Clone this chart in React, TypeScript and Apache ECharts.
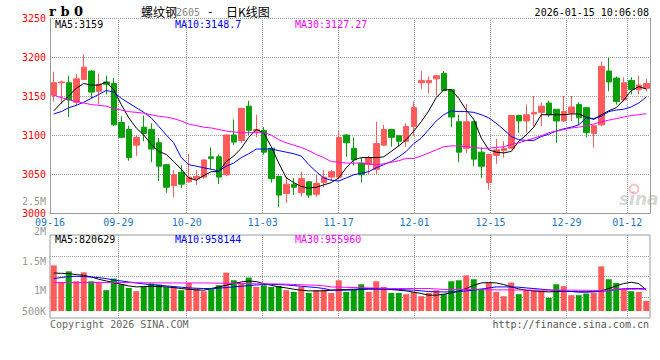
import React, { useEffect, useRef } from 'react';
import * as echarts from 'echarts';

// ---------- data ----------
const dates = [
  '09-16','09-17','09-18','09-19','09-22','09-23','09-24','09-25','09-26','09-29',
  '09-30','10-09','10-10','10-13','10-14','10-15','10-16','10-17','10-20','10-21',
  '10-22','10-23','10-24','10-27','10-28','10-29','10-30','10-31','11-03','11-04',
  '11-05','11-06','11-07','11-10','11-11','11-12','11-13','11-14','11-17','11-18',
  '11-19','11-20','11-21','11-24','11-25','11-26','11-27','11-28','12-01','12-02',
  '12-03','12-04','12-05','12-08','12-09','12-10','12-11','12-12','12-15','12-16',
  '12-17','12-18','12-19','12-22','12-23','12-24','12-25','12-26','12-29','12-30',
  '12-31','01-05','01-06','01-07','01-08','01-09','01-12','01-13','01-14','01-15'
];

const opens = [
  3151,3167,3167,3142,3171,3182,3156,3168,3166,3116,
  3107,3087,3110,3107,3090,3062,3035,3052,3040,3044,
  3046,3072,3072,3049,3100,3093,3137,3105,3106,3083,
  3047,3025,3037,3026,3040,3024,3039,3046,3046,3100,
  3083,3064,3062,3056,3087,3107,3099,3092,3111,3167,
  3167,3172,3179,3158,3117,3083,3117,3078,3039,3074,
  3080,3083,3125,3118,3127,3129,3141,3133,3118,3128,
  3139,3135,3102,3113,3182,3173,3145,3170,3158,3160
];
const closes = [
  3167,3168,3145,3172,3187,3155,3165,3165,3113,3097,
  3071,3097,3102,3082,3060,3033,3049,3037,3046,3047,
  3068,3070,3046,3100,3091,3134,3106,3107,3078,3044,
  3023,3037,3033,3044,3023,3038,3046,3053,3097,3090,
  3068,3049,3071,3089,3107,3097,3092,3111,3135,3170,
  3170,3176,3157,3123,3078,3117,3069,3060,3075,3081,
  3083,3125,3118,3126,3129,3137,3126,3118,3130,3136,
  3122,3103,3112,3188,3168,3143,3167,3158,3164,3166
];
const lows = [
  3143,3140,3123,3138,3171,3147,3139,3152,3112,3096,
  3067,3073,3092,3065,3041,3026,3020,3032,3039,3036,
  3044,3056,3037,3047,3087,3090,3100,3097,3075,3039,
  3008,3013,3023,3021,3019,3021,3033,3041,3043,3072,
  3061,3039,3050,3050,3086,3085,3085,3085,3099,3159,
  3153,3151,3156,3110,3065,3077,3060,3045,3030,3063,
  3071,3082,3103,3103,3111,3111,3123,3090,3117,3118,
  3113,3097,3084,3111,3156,3139,3143,3152,3152,3156
];
const highs = [
  3181,3170,3176,3178,3203,3183,3179,3176,3173,3124,
  3112,3100,3125,3115,3096,3063,3055,3061,3076,3055,
  3069,3084,3075,3101,3120,3135,3144,3126,3110,3084,
  3048,3045,3045,3053,3041,3049,3055,3055,3105,3101,
  3097,3071,3073,3117,3113,3108,3100,3115,3143,3182,
  3175,3177,3182,3159,3126,3140,3118,3084,3076,3095,
  3092,3125,3126,3139,3150,3142,3144,3133,3150,3150,
  3142,3135,3112,3194,3199,3175,3174,3174,3176,3172
];

const ma5 = [
  3131,3141,3150,3160,3166,3164,3164,3168,3158,3139,
  3122,3109,3100,3088,3079,3075,3066,3056,3045,3042,
  3048,3053,3053,3066,3073,3083,3097,3107,3103,3085,
  3064,3045,3039,3034,3032,3033,3036,3039,3045,3058,
  3068,3071,3071,3071,3072,3079,3086,3094,3105,3117,
  3131,3148,3158,3158,3147,3132,3120,3096,3081,3078,
  3077,3079,3092,3100,3110,3126,3126,3126,3126,3127,
  3127,3123,3120,3126,3131,3135,3145,3157,3162,3159
];
const ma10 = [
  3127,3130,3135,3138,3142,3147,3152,3157,3155,3147,
  3141,3135,3129,3122,3111,3100,3090,3071,3062,3060,
  3058,3056,3054,3060,3064,3071,3076,3082,3082,3082,
  3080,3078,3076,3073,3062,3053,3045,3042,3041,3045,
  3049,3051,3053,3058,3062,3066,3072,3079,3089,3096,
  3107,3118,3126,3131,3130,3130,3129,3126,3122,3115,
  3107,3098,3094,3093,3093,3098,3101,3105,3108,3110,
  3113,3122,3121,3124,3130,3132,3133,3136,3141,3148.7
];
const ma30 = [
  3151,3148,3145,3143,3141,3139,3138,3137,3134,3132,
  3130,3129,3128,3126,3124,3123,3121,3118,3114,3112,
  3110,3109,3107,3105,3104,3103,3103,3103,3103,3100,
  3094,3090,3087,3084,3080,3075,3071,3066,3065,3064,
  3064,3064,3063,3062,3063,3065,3067,3070,3070,3073,
  3077,3081,3085,3086,3086,3085,3084,3083,3083,3084,
  3085,3088,3090,3093,3096,3099,3103,3105,3107,3109,
  3110,3112,3114,3117,3119,3121,3123,3125,3126,3127.27
];

const volumes = [
  1430000,1150000,1329000,1162000,1313000,1162000,1150000,1012000,1207000,1112000,
  1050000,995000,1067000,1124000,1107000,1062000,1067000,1012000,1134000,1040000,
  995000,1040000,1095000,1308000,1179000,1124000,1224000,1067000,1095000,1067000,
  1084000,1012000,983000,1067000,966000,1012000,1023000,966000,1179000,983000,
  1028000,1112000,983000,1162000,1067000,966000,966000,945000,983000,911000,
  966000,1012000,945000,1162000,1179000,1262000,1196000,1040000,1134000,983000,
  911000,1140000,945000,1012000,1012000,1000000,883000,1112000,1079000,928000,
  928000,956000,966000,1413000,1196000,1134000,1040000,995000,983000,833000
];
const vma5 = [
  1301000,1296000,1291000,1274000,1262000,1234000,1196000,1167000,1140000,1112000,
  1084000,1067000,1073000,1078000,1073000,1067000,1057000,1040000,1028000,1017000,
  1012000,1040000,1067000,1095000,1124000,1150000,1167000,1157000,1124000,1095000,
  1067000,1050000,1028000,1012000,1000000,1000000,1000000,1012000,1017000,1023000,
  1028000,1034000,1040000,1040000,1034000,1023000,1012000,1000000,978000,956000,
  928000,928000,945000,966000,995000,1040000,1095000,1134000,1140000,1134000,
  1107000,1067000,1034000,1012000,1000000,990000,983000,990000,995000,990000,
  983000,983000,990000,1000000,1040000,1084000,1124000,1145000,1124000,1012000
];
const vma10 = [
  1207000,1224000,1241000,1246000,1241000,1234000,1224000,1207000,1184000,1167000,
  1150000,1134000,1117000,1107000,1095000,1084000,1073000,1062000,1050000,1045000,
  1040000,1040000,1045000,1057000,1067000,1078000,1090000,1100000,1107000,1107000,
  1107000,1100000,1090000,1078000,1067000,1057000,1040000,1012000,1012000,1012000,
  1017000,1023000,1028000,1028000,1028000,1028000,1023000,1017000,1012000,1000000,
  990000,983000,983000,983000,990000,1000000,1012000,1028000,1050000,1067000,
  1067000,1067000,1062000,1050000,1040000,1028000,1017000,1006000,995000,990000,
  983000,983000,983000,995000,1006000,1023000,1034000,1040000,1040000,1034000
];
const vma30 = [
  1140000,1140000,1140000,1140000,1140000,1140000,1140000,1140000,1140000,1140000,
  1140000,1138000,1137000,1136000,1135000,1134000,1134000,1134000,1134000,1134000,
  1134000,1132000,1130000,1128000,1126000,1124000,1122000,1120000,1119000,1118000,
  1117000,1113000,1108000,1103000,1099000,1095000,1085000,1067000,1064000,1060000,
  1057000,1054000,1050000,1047000,1044000,1040000,1040000,1040000,1040000,1040000,
  1040000,1034000,1023000,1023000,1023000,1023000,1022000,1021000,1019000,1018000,
  1017000,1016000,1015000,1014000,1013000,1012000,1012000,1012000,1012000,1012000,
  1012000,1010000,1008000,1000000,1010000,1028000,1028000,1028000,1028000,1028000
];

const axisDates = ['09-16','09-29','10-20','11-03','11-17','12-01','12-15','12-29','01-12'];
const priceMin = 3000;
const priceMax = 3250;
const priceStep = 50;
const volTickMin = 500000;
const volTickMax = 2500000;
const volTickStep = 500000;
const volMa5Now = 820629;
const volMa10Now = 958144;
const volMa30Now = 955960;
const symbolCode = 'r b 0';
const titleName = '螺纹钢';
const titleCode = '2605';
const titleKind = '日K线图';
const timestamp = '2026-01-15 10:06:08';
const copyrightText = 'Copyright 2026 SINA.COM';
const urlText = 'http://finance.sina.com.cn';

// ---------- styles ----------
const RED = '#ff5b5b';
const GREEN = '#08a008';
const GRID_GRAY = '#9c9c9c';
const BORDER_GRAY = '#9a9a9a';
const MONO = 'DejaVu Sans Mono';
const CJK = 'Noto Sans CJK SC';

export default function App() {
  const ref = useRef<HTMLDivElement>(null);

  useEffect(() => {
    if (!ref.current) return;
    const chart = echarts.init(ref.current, null, { renderer: 'svg' });

    const volTop = 201.8;
    const volLabelBottomY = 320.6;
    const volBarBaseY = 311;
    const perPx = (volTickMax - volTickMin) / (volLabelBottomY - volTop);
    const volBarMin = volTickMax - (volBarBaseY - volTop) * perPx;

    const showDate = (_i: number, v: string) => axisDates.includes(v);
    const showGrid = (i: number, v: string) => i > 0 && axisDates.includes(v);
    const dottedLine = { color: GRID_GRAY, type: 'dotted' as const, width: 1 };

    const maLine = (data: number[], color: string, x: number, y: number) => ({
      type: 'line',
      data,
      xAxisIndex: x,
      yAxisIndex: y,
      symbol: 'none',
      showSymbol: false,
      lineStyle: { width: 1, color },
      itemStyle: { color },
      z: 3,
    });

    const txt = (text: string, x: number, y: number, font: string, fill: string, align = 'left') => ({
      type: 'text',
      x,
      y,
      silent: true,
      z: 20,
      style: { text, font, fill, align, verticalAlign: 'middle', textAlign: align, textVerticalAlign: 'middle' },
    });

    const option: any = {
      animation: false,
      backgroundColor: '#ffffff',
      grid: [
        { left: 50, right: 10, top: 18, bottom: 147 },
        { left: 50, right: 10, top: 235, bottom: 42, show: true, borderColor: BORDER_GRAY, borderWidth: 1, backgroundColor: 'transparent' },
        { left: 50, right: 10, top: volTop, bottom: 360 - volBarBaseY },
        { left: 50, right: 10, top: volTop, bottom: 360 - volLabelBottomY },
      ],
      xAxis: [
        { type: 'category', gridIndex: 0, data: dates, boundaryGap: true, show: false },
        {
          type: 'category', gridIndex: 0, data: dates, boundaryGap: false, position: 'bottom',
          axisLine: { show: true, lineStyle: { color: BORDER_GRAY, width: 1 } },
          axisTick: { show: false },
          axisLabel: { interval: showDate, color: '#1e78c8', fontFamily: MONO, fontSize: 10, lineHeight: 8, margin: 5 },
          splitLine: { show: true, interval: showGrid, lineStyle: dottedLine },
        },
        {
          type: 'category', gridIndex: 1, data: dates, boundaryGap: false,
          axisLine: { show: false }, axisTick: { show: false }, axisLabel: { show: false },
          splitLine: { show: true, interval: showGrid, lineStyle: dottedLine },
        },
        { type: 'category', gridIndex: 2, data: dates, boundaryGap: true, show: false },
        { type: 'category', gridIndex: 3, data: dates, boundaryGap: true, show: false },
      ],
      yAxis: [
        {
          type: 'value', gridIndex: 0, min: priceMin, max: priceMax, interval: priceStep,
          axisLine: { show: true, lineStyle: { color: BORDER_GRAY, width: 1 } },
          axisTick: { show: false },
          axisLabel: { color: '#ff0000', fontFamily: MONO, fontSize: 10, lineHeight: 9, margin: 4, formatter: (v: number) => String(v) },
          splitLine: { show: true, showMinLine: false, showMaxLine: true, lineStyle: dottedLine },
        },
        {
          type: 'value', gridIndex: 0, position: 'right', min: priceMin, max: priceMax, interval: priceStep,
          axisLine: { show: true, lineStyle: { color: BORDER_GRAY, width: 1 } },
          axisTick: { show: false }, axisLabel: { show: false }, splitLine: { show: false },
        },
        {
          type: 'value', gridIndex: 1, min: 0, max: 4, interval: 1,
          axisLine: { show: false }, axisTick: { show: false }, axisLabel: { show: false },
          splitLine: { show: true, showMinLine: false, showMaxLine: false, lineStyle: dottedLine },
        },
        { type: 'value', gridIndex: 2, min: volBarMin, max: volTickMax, show: false, splitLine: { show: false } },
        {
          type: 'value', gridIndex: 3, min: volTickMin, max: volTickMax, interval: volTickStep,
          axisLine: { show: false }, axisTick: { show: false }, splitLine: { show: false },
          axisLabel: {
            color: '#999999', fontFamily: MONO, fontSize: 10, lineHeight: 9, margin: 4,
            formatter: (v: number) => {
              const s = v >= 1000000 ? `${v / 1000000}M` : `${v / 1000}K`;
              return v === volTickMin ? `{low|${s}}` : s;
            },
            rich: { low: { color: '#999999', fontFamily: MONO, fontSize: 10, lineHeight: 9, padding: [0, 0, 19, 0] } },
          },
        },
      ],
      series: [
        {
          type: 'candlestick',
          xAxisIndex: 0,
          yAxisIndex: 0,
          barWidth: 6,
          data: dates.map((_, i) => [opens[i], closes[i], lows[i], highs[i]]),
          itemStyle: { color: RED, color0: GREEN, borderColor: RED, borderColor0: GREEN, borderWidth: 1 },
          z: 2,
        },
        maLine(ma5, '#000000', 0, 0),
        maLine(ma10, '#0000ff', 0, 0),
        maLine(ma30, '#ff00ff', 0, 0),
        {
          type: 'bar',
          xAxisIndex: 3,
          yAxisIndex: 3,
          barWidth: 6,
          data: volumes.map((v, i) => ({ value: v, itemStyle: { color: closes[i] >= opens[i] ? RED : GREEN } })),
          z: 2,
        },
        maLine(vma5, '#000000', 3, 3),
        maLine(vma10, '#0000ff', 3, 3),
        maLine(vma30, '#ff00ff', 3, 3),
      ],
      graphic: [
        txt(symbolCode, 49, 11, `bold 13px "DejaVu Serif"`, '#000000'),
        txt(titleName, 141, 11, `12px "${CJK}"`, '#000000'),
        txt(titleCode, 176, 12, `10px "${MONO}"`, '#888888'),
        txt('-', 207, 11, `11px "${MONO}"`, '#000000'),
        txt(titleKind, 226, 11, `12px "${CJK}"`, '#000000'),
        txt(timestamp, 649, 12, `10px "${MONO}"`, '#000000', 'right'),
        txt(`MA5:${ma5[ma5.length - 1]}`, 55, 24, `10px "${MONO}"`, '#000000'),
        txt(`MA10:${ma10[ma10.length - 1]}`, 175, 24, `10px "${MONO}"`, '#0000ff'),
        txt(`MA30:${ma30[ma30.length - 1]}`, 295, 24, `10px "${MONO}"`, '#ff00ff'),
        txt(`MA5:${volMa5Now}`, 55, 239, `10px "${MONO}"`, '#000000'),
        txt(`MA10:${volMa10Now}`, 175, 239, `10px "${MONO}"`, '#0000ff'),
        txt(`MA30:${volMa30Now}`, 295, 239, `10px "${MONO}"`, '#ff00ff'),
        txt(copyrightText, 50, 324, `10px "${MONO}"`, '#666666'),
        txt(urlText, 649, 324, `10px "${MONO}"`, '#555555', 'right'),
        {
          type: 'circle', silent: true, z: 19,
          shape: { cx: 634, cy: 189, r: 4.5 },
          style: { fill: 'none', stroke: 'rgba(230,90,90,0.35)', lineWidth: 2 },
        },
        txt('sina', 619, 199, `italic bold 17px "DejaVu Sans"`, 'rgba(150,150,150,0.4)'),
      ],
    };

    chart.setOption(option);
    return () => chart.dispose();
  }, []);

  return <div ref={ref} style={{ position: 'absolute', left: 0, top: 0, width: 660, height: 360 }} />;
}
